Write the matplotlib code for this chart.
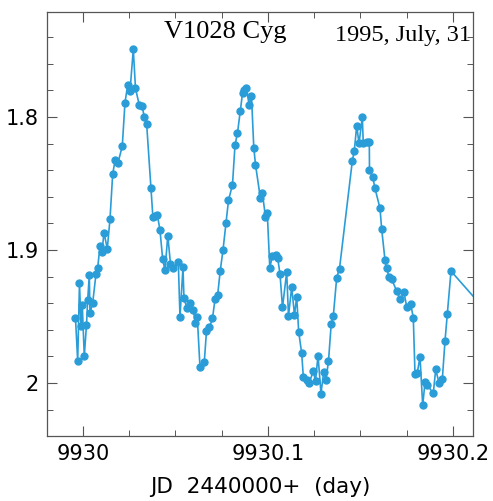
import matplotlib
matplotlib.use("Agg")
import matplotlib.pyplot as plt
from matplotlib.ticker import MultipleLocator
import numpy as np

# time offsets from JD 2449930 (day) and magnitudes
t_offset = [
    -0.00405, -0.00286, -0.00189, -0.00108, -0.00038, 0.00070, 0.00189, 0.00254,
    0.00341, 0.00378, 0.00524, 0.00703, 0.00795, 0.00919, 0.01027, 0.01135,
    0.01314, 0.01459, 0.01605, 0.01741, 0.01892, 0.02124, 0.02270, 0.02416,
    0.02541, 0.02719, 0.02838, 0.03043, 0.03200, 0.03314, 0.03443, 0.03676,
    0.03778, 0.03919, 0.04016, 0.04162, 0.04308, 0.04432, 0.04584, 0.04730,
    0.04865, 0.05151, 0.05243, 0.05405, 0.05459, 0.05622, 0.05800, 0.05962,
    0.06070, 0.06178, 0.06324, 0.06557, 0.06676, 0.06838, 0.07000, 0.07135,
    0.07281, 0.07416, 0.07568, 0.07730, 0.07865, 0.08081, 0.08216, 0.08351,
    0.08503, 0.08622, 0.08730, 0.08838, 0.08973, 0.09108, 0.09232, 0.09324,
    0.09584, 0.09692, 0.09865, 0.09962, 0.10097, 0.10243, 0.10432, 0.10524,
    0.10649, 0.10784, 0.11011, 0.11108, 0.11281, 0.11432, 0.11551, 0.11659,
    0.11822, 0.11908, 0.12092, 0.12232, 0.12449, 0.12568, 0.12703, 0.12865,
    0.13011, 0.13135, 0.13270, 0.13416, 0.13530, 0.13714, 0.13865, 0.14557,
    0.14665, 0.14795, 0.14919, 0.15097, 0.15151, 0.15335, 0.15476, 0.15486,
    0.15659, 0.15784, 0.16054, 0.16146, 0.16324, 0.16416, 0.16541, 0.16686,
    0.16957, 0.17135, 0.17351, 0.17497, 0.17714, 0.17854, 0.17946, 0.18070,
    0.18216, 0.18362, 0.18486, 0.18611, 0.18935, 0.19065, 0.19243, 0.19422,
    0.19568, 0.19692, 0.19892, 0.22500,
]
mag = [
    1.9511, 1.9835, 1.9248, 1.9571, 1.9414, 1.9797, 1.9564, 1.9376,
    1.9188, 1.9474, 1.9398, 1.9180, 1.9132, 1.8970, 1.9013, 1.8870,
    1.8989, 1.8769, 1.8429, 1.8320, 1.8344, 1.8218, 1.7891, 1.7759,
    1.7805, 1.7491, 1.7784, 1.7910, 1.7917, 1.8002, 1.8055, 1.8530,
    1.8750, 1.8744, 1.8733, 1.8850, 1.9070, 1.9150, 1.8891, 1.9105,
    1.9135, 1.9088, 1.9502, 1.9130, 1.9363, 1.9438, 1.9395, 1.9447,
    1.9545, 1.9504, 1.9880, 1.9840, 1.9609, 1.9579, 1.9514, 1.9371,
    1.9336, 1.9158, 1.9000, 1.8799, 1.8626, 1.8508, 1.8211, 1.8120,
    1.7953, 1.7822, 1.7797, 1.7778, 1.7906, 1.7842, 1.8229, 1.8357,
    1.8605, 1.8569, 1.8750, 1.8722, 1.9132, 1.9041, 1.9034, 1.9060,
    1.9180, 1.9431, 1.9165, 1.9496, 1.9278, 1.9489, 1.9351, 1.9614,
    1.9777, 1.9951, 1.9974, 1.9996, 1.9910, 1.9985, 1.9793, 2.0079,
    1.9914, 1.9974, 1.9835, 1.9556, 1.9496, 1.9207, 1.9139, 1.8331,
    1.8253, 1.8065, 1.8198, 1.8002, 1.8198, 1.8186, 1.8186, 1.8398,
    1.8449, 1.8536, 1.8686, 1.8844, 1.9075, 1.9138, 1.9201, 1.9220,
    1.9308, 1.9371, 1.9318, 1.9426, 1.9406, 1.9509, 1.9932, 1.9923,
    1.9802, 2.0168, 1.9995, 2.0015, 2.0077, 1.9897, 1.9998, 1.9972,
    1.9682, 1.9483, 1.9158, 1.9570,
]
jd0 = 9930.0
x_ticks = [9930, 9930.1, 9930.2]
x_ticklabels = ["9930", "9930.1", "9930.2"]
y_ticks = [1.8, 1.9, 2.0]
y_ticklabels = ["1.8", "1.9", "2"]

jd = jd0 + np.array(t_offset)

fig = plt.figure(figsize=(4.93, 5.01), dpi=100)
ax = fig.add_axes([0.0953, 0.1297, 0.8641, 0.8463])

ax.plot(jd, mag, "-o", color="#2a9dd8", lw=1.2, ms=5, mec="#2a9dd8")

ax.set_xlim(9929.98054, 9930.2108)
ax.set_ylim(2.0398, 1.721)

ax.set_xticks(x_ticks)
ax.set_xticklabels(x_ticklabels)
ax.set_yticks(y_ticks)
ax.set_yticklabels(y_ticklabels)
ax.xaxis.set_minor_locator(MultipleLocator(0.025))
ax.yaxis.set_minor_locator(MultipleLocator(0.02))
ax.tick_params(which="both", direction="in", top=True, right=True,
               labelsize=15, color="#555555", pad=6)
ax.tick_params(which="major", length=7, width=0.8)
ax.tick_params(which="minor", length=4, width=0.7)
for s in ax.spines.values():
    s.set_color("#555555")
    s.set_linewidth(0.9)

ax.set_xlabel("JD  2440000+  (day)", fontsize=15.5, labelpad=9)

ax.text(0.275, 0.978, "V1028 Cyg", transform=ax.transAxes, ha="left", va="top",
        family="Liberation Serif", fontsize=19)
ax.text(0.995, 0.97, "1995, July, 31", transform=ax.transAxes, ha="right",
        va="top", family="Liberation Serif", fontsize=17.5)

fig.savefig("out.png", dpi=100)
